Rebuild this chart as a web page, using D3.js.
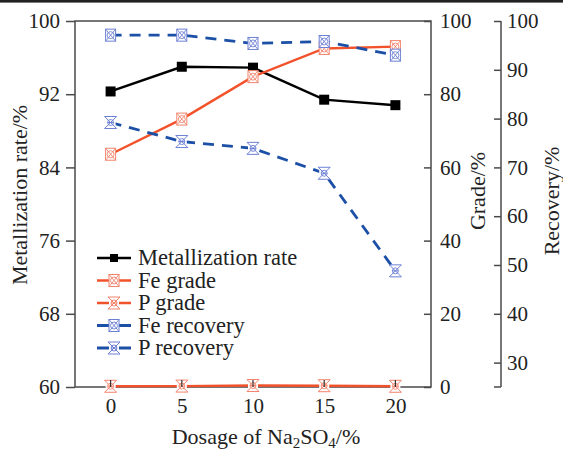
<!DOCTYPE html>
<html><head><meta charset="utf-8">
<script src="https://cdn.jsdelivr.net/npm/d3@7"></script>
<style>html,body{margin:0;padding:0;background:#fff}svg{display:block}</style>
</head><body><svg id="c" width="563" height="450"></svg>
<script>
const dosage = [0, 5, 10, 15, 20];
const metallization = [92.3, 95.0, 94.9, 91.4, 90.8];
const feGrade = [63.6, 73.2, 84.8, 92.5, 93.0];
const pGrade = [0.2, 0.25, 0.4, 0.35, 0.2];
const feRecovery = [97.1, 97.1, 95.4, 95.8, 93.0];
const pRecovery = [79.2, 75.3, 73.9, 68.8, 48.8];
const leftTicks = [60, 68, 76, 84, 92, 100];
const gradeTicks = [0, 20, 40, 60, 80, 100];
const recTicks = [30, 40, 50, 60, 70, 80, 90, 100];
const legendLabels = ["Metallization rate", "Fe grade", "P grade", "Fe recovery", "P recovery"];

const svg = d3.select("#c");
const font = "'Liberation Serif','Times New Roman',Times,serif";
const L = 75, R = 431, T = 21, B = 387, RA = 501;
const axisColor = "#4a4a4a";
const orange = "#f2522b", orangeM = "#f4836b", blue = "#1c4fa6", blueM = "#6c80d4";

const x = d3.scaleLinear().domain([-2.5, 22.5]).range([L, R]);
const yL = d3.scaleLinear().domain([60, 100]).range([B, T]);
const yG = d3.scaleLinear().domain([0, 100]).range([B, T]);
const yR = d3.scaleLinear().domain([25, 100]).range([B, T]);

svg.append("rect").attr("x", 0).attr("y", 0).attr("width", 563).attr("height", 2.6).attr("fill", "#222");

svg.append("rect").attr("x", L).attr("y", T).attr("width", R - L).attr("height", B - T)
  .attr("fill", "none").attr("stroke", axisColor).attr("stroke-width", 1.5);

function styleAxis(g, size) {
  g.select(".domain").remove();
  g.selectAll(".tick line").attr("stroke", axisColor).attr("stroke-width", 1.5);
  g.selectAll(".tick text").attr("font-family", font).attr("font-size", size).attr("fill", "#222");
}
const gl = svg.append("g").attr("transform", `translate(${L},0)`)
  .call(d3.axisLeft(yL).tickValues(leftTicks).tickSize(9).tickPadding(6));
styleAxis(gl, 21);
const gg = svg.append("g").attr("transform", `translate(${R},0)`)
  .call(d3.axisLeft(yG).tickValues(gradeTicks).tickSize(7).tickFormat(d => d));
styleAxis(gg, 21);
gg.selectAll(".tick text").attr("text-anchor", "start").attr("x", 9);
svg.append("line").attr("x1", RA).attr("x2", RA).attr("y1", T).attr("y2", B).attr("stroke", axisColor).attr("stroke-width", 1.5);
const gr = svg.append("g").attr("transform", `translate(${RA},0)`)
  .call(d3.axisLeft(yR).tickValues(recTicks).tickSize(7));
styleAxis(gr, 21);
gr.selectAll(".tick text").attr("text-anchor", "start").attr("x", 6);
gr.append("line").attr("x1", -7).attr("x2", 0).attr("y1", B).attr("y2", B).attr("stroke", axisColor).attr("stroke-width", 1.5);
const gx = svg.append("g").attr("transform", `translate(0,${B})`)
  .call(d3.axisBottom(x).tickValues(dosage).tickSize(0).tickPadding(11));
styleAxis(gx, 21);

svg.append("text").attr("transform", `translate(27,195) rotate(-90)`)
  .attr("text-anchor", "middle").attr("font-family", font).attr("font-size", 22).attr("fill", "#222")
  .text("Metallization rate/%");
svg.append("text").attr("transform", `translate(485,191) rotate(-90)`)
  .attr("text-anchor", "middle").attr("font-family", font).attr("font-size", 22).attr("fill", "#222")
  .text("Grade/%");
svg.append("text").attr("transform", `translate(559,201) rotate(-90)`)
  .attr("text-anchor", "middle").attr("font-family", font).attr("font-size", 22).attr("fill", "#222")
  .text("Recovery/%");
const xt = svg.append("text").attr("x", 266).attr("y", 444).attr("text-anchor", "middle")
  .attr("font-family", font).attr("font-size", 22).attr("fill", "#222");
xt.append("tspan").text("Dosage of Na");
xt.append("tspan").attr("dy", 4).attr("font-size", 15).text("2");
xt.append("tspan").attr("dy", -4).text("SO");
xt.append("tspan").attr("dy", 4).attr("font-size", 15).text("4");
xt.append("tspan").attr("dy", -4).text("/%");

function marker(g, type, cx, cy) {
  if (type === "sq") {
    g.append("rect").attr("x", cx - 5).attr("y", cy - 5).attr("width", 10).attr("height", 10).attr("fill", "#000");
  } else if (type === "fe") {
    const c = g.attr("data-c");
    g.append("rect").attr("x", cx - 5).attr("y", cy - 6).attr("width", 10).attr("height", 12).attr("fill", "#fff").attr("stroke", c).attr("stroke-width", 1);
    g.append("path").attr("d", `M${cx-5},${cy-6}L${cx+5},${cy+6}M${cx+5},${cy-6}L${cx-5},${cy+6}`).attr("stroke", c).attr("stroke-width", 0.9);
    g.append("circle").attr("cx", cx).attr("cy", cy).attr("r", 3.5).attr("fill", "none").attr("stroke", c).attr("stroke-width", 0.9);
  } else {
    const c = g.attr("data-c");
    g.append("rect").attr("x", cx - 5).attr("y", cy - 6).attr("width", 10).attr("height", 12).attr("fill", "#fff");
    g.append("path").attr("d", `M${cx-6},${cy-6}L${cx+6},${cy-6}M${cx-6},${cy+6}L${cx+6},${cy+6}M${cx-6},${cy-6}L${cx+6},${cy+6}M${cx+6},${cy-6}L${cx-6},${cy+6}M${cx-3},${cy}L${cx+3},${cy}`)
      .attr("stroke", c).attr("stroke-width", 1).attr("fill", "none");
    g.append("circle").attr("cx", cx).attr("cy", cy).attr("r", 3).attr("fill", "none").attr("stroke", c).attr("stroke-width", 0.9);
  }
}

const series = [
  { vals: metallization, y: yL, color: "#000", mc: "#000", dash: null, m: "sq", w: 2.4 },
  { vals: feGrade, y: yG, color: orange, mc: orangeM, dash: null, m: "fe", w: 2.4 },
  { vals: pGrade, y: yG, color: orange, mc: orangeM, dash: null, m: "p", w: 2.4 },
  { vals: feRecovery, y: yR, color: blue, mc: blueM, dash: "11,8", m: "fe", w: 2.8 },
  { vals: pRecovery, y: yR, color: blue, mc: blueM, dash: "11,8", m: "p", w: 2.8 }
];
const plot = svg.append("g");
series.forEach(s => {
  const line = d3.line().x((d, i) => x(dosage[i])).y(d => s.y(d));
  plot.append("path").datum(s.vals).attr("d", line).attr("fill", "none").attr("stroke", s.color)
    .attr("stroke-width", s.w).attr("stroke-dasharray", s.dash);
});
series.forEach(s => {
  const g = plot.append("g").attr("data-c", s.mc);
  s.vals.forEach((v, i) => marker(g, s.m, x(dosage[i]), s.y(v)));
});
dosage.forEach(d => {
  plot.append("line").attr("x1", x(d)).attr("x2", x(d)).attr("y1", B).attr("y2", B - 7).attr("stroke", "#333").attr("stroke-width", 1.2);
});

const lg = svg.append("g");
legendLabels.forEach((lab, i) => {
  const s = series[i];
  const yy = 258 + i * 22.5;
  lg.append("line").attr("x1", 97).attr("x2", 131).attr("y1", yy).attr("y2", yy)
    .attr("stroke", s.color).attr("stroke-width", s.w);
  const g = lg.append("g").attr("data-c", s.mc);
  if (s.m === "sq") {
    g.append("rect").attr("x", 110).attr("y", yy - 4).attr("width", 8).attr("height", 8).attr("fill", "#000");
  } else {
    marker(g, s.m, 114, yy);
  }
  lg.append("text").attr("x", 138).attr("y", yy + 7).attr("font-family", font).attr("font-size", 22.5)
    .attr("fill", "#222").text(lab);
});
</script></body></html>
